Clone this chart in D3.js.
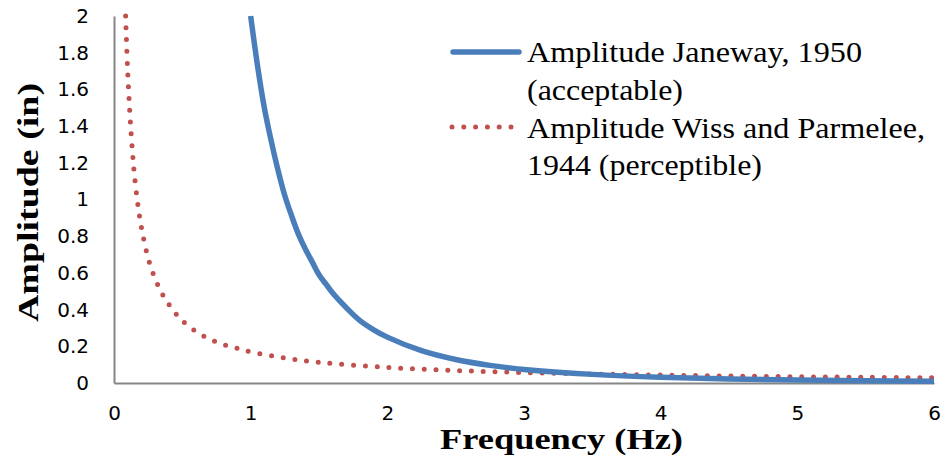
<!DOCTYPE html>
<html>
<head>
<meta charset="utf-8">
<script src="https://cdn.jsdelivr.net/npm/d3@7"></script>
<style>
  html, body { margin: 0; padding: 0; background: #fff; }
  svg { display: block; }
</style>
</head>
<body>
<svg id="chart" width="943" height="465"></svg>
<script>
// ---- data ----
const janewayFreq = [1.0, 1.05, 1.1, 1.15, 1.2, 1.25, 1.3, 1.35, 1.4, 1.45, 1.5, 1.55, 1.6, 1.7, 1.8, 1.9, 2.0, 2.25, 2.5, 2.75, 3.0, 3.5, 4.0, 4.5, 5.0, 5.5, 6.0];
const janewayAmp  = [2.0, 1.73, 1.5, 1.32, 1.16, 1.02, 0.91, 0.81, 0.73, 0.66, 0.59, 0.54, 0.49, 0.41, 0.34, 0.29, 0.25, 0.176, 0.128, 0.096, 0.074, 0.047, 0.031, 0.022, 0.016, 0.012, 0.009];
const wissFreq = [0.085, 0.09, 0.1, 0.11, 0.12, 0.135, 0.15, 0.175, 0.2, 0.25, 0.3, 0.35, 0.4, 0.45, 0.5, 0.6, 0.7, 0.8, 0.9, 1.0, 1.25, 1.5, 2.0, 2.5, 3.0, 3.5, 4.0, 4.5, 5.0, 5.5, 6.0];
const wissAmp  = [2.0, 1.89, 1.7, 1.55, 1.42, 1.26, 1.13, 0.97, 0.85, 0.68, 0.57, 0.49, 0.43, 0.38, 0.34, 0.28, 0.24, 0.21, 0.19, 0.17, 0.136, 0.113, 0.085, 0.068, 0.057, 0.049, 0.043, 0.038, 0.034, 0.031, 0.028];
const xTicks = [0, 1, 2, 3, 4, 5, 6];
const yTicks = [0, 0.2, 0.4, 0.6, 0.8, 1, 1.2, 1.4, 1.6, 1.8, 2];
const seriesNames = [["Amplitude Janeway, 1950", "(acceptable)"], ["Amplitude Wiss and Parmelee,", "1944 (perceptible)"]];
const xTitle = "Frequency (Hz)";
const yTitle = "Amplitude (in)";

// ---- layout ----
const svg = d3.select("#chart");
const x = d3.scaleLinear().domain([0, 6]).range([114, 934]);
const y = d3.scaleLinear().domain([0, 2]).range([383, 16]);
const axisColor = "#868686";
const blue = "#4A7EBB";
const red = "#C0504D";
const sansFont = "'DejaVu Sans', sans-serif";
const serifFont = "'Liberation Serif', 'Times New Roman', serif";

const xAxis = d3.axisBottom(x).tickValues(xTicks).tickSize(0).tickPadding(23).tickFormat(d3.format("d"));
const gx = svg.append("g").attr("transform", `translate(0,${y(0)})`).call(xAxis);
gx.attr("font-size", 20).attr("font-family", sansFont);
gx.select(".domain").attr("stroke", axisColor).attr("stroke-width", 2);
gx.selectAll(".tick text").style("font-size", "20px").style("font-family", sansFont).style("fill", "#000");

const yAxis = d3.axisLeft(y).tickValues(yTicks).tickSize(0).tickPadding(25).tickFormat(d => String(+d.toFixed(1)));
const gy = svg.append("g").attr("transform", `translate(${x(0)},0)`).call(yAxis);
gy.attr("font-size", 20).attr("font-family", sansFont);
gy.select(".domain").attr("stroke", axisColor).attr("stroke-width", 2);
gy.selectAll(".tick text").style("font-size", "20px").style("font-family", sansFont).style("fill", "#000");

// lines
const line = d3.line().x(d => x(d[0])).y(d => y(d[1])).curve(d3.curveCatmullRom.alpha(0.5));
const janeway = janewayFreq.map((f, i) => [f, janewayAmp[i]]);
const wiss = wissFreq.map((f, i) => [f, wissAmp[i]]);

svg.append("path").datum(wiss).attr("d", line)
  .attr("fill", "none").attr("stroke", red).attr("stroke-width", 5)
  .attr("stroke-linecap", "round").attr("stroke-dasharray", "0 11.8");

svg.append("path").datum(janeway).attr("d", line)
  .attr("fill", "none").attr("stroke", blue).attr("stroke-width", 5.5);

// axis titles
svg.append("text").attr("x", 440).attr("y", 449)
  .style("font-family", serifFont).style("font-weight", "bold").style("font-size", "30px")
  .attr("textLength", 243).attr("lengthAdjust", "spacingAndGlyphs")
  .text(xTitle);
svg.append("text").attr("transform", "translate(38,322) rotate(-90)")
  .style("font-family", serifFont).style("font-weight", "bold").style("font-size", "30px")
  .attr("textLength", 239).attr("lengthAdjust", "spacingAndGlyphs")
  .text(yTitle);

// legend
const legend = svg.append("g");
legend.append("line").attr("x1", 453).attr("x2", 519).attr("y1", 52).attr("y2", 52)
  .attr("stroke", blue).attr("stroke-width", 5.5).attr("stroke-linecap", "round");
legend.append("line").attr("x1", 452).attr("x2", 512).attr("y1", 127).attr("y2", 127)
  .attr("stroke", red).attr("stroke-width", 5).attr("stroke-linecap", "round").attr("stroke-dasharray", "0 11.8");
const legendLines = [
  {t: seriesNames[0][0], y: 62, w: 335},
  {t: seriesNames[0][1], y: 100, w: 156},
  {t: seriesNames[1][0], y: 138, w: 398},
  {t: seriesNames[1][1], y: 175, w: 235}
];
legend.selectAll("text.lg").data(legendLines).enter().append("text")
  .attr("class", "lg").attr("x", 527).attr("y", d => d.y)
  .style("font-family", serifFont).style("font-size", "29px")
  .attr("textLength", d => d.w).attr("lengthAdjust", "spacingAndGlyphs")
  .text(d => d.t);
</script>
</body>
</html>
